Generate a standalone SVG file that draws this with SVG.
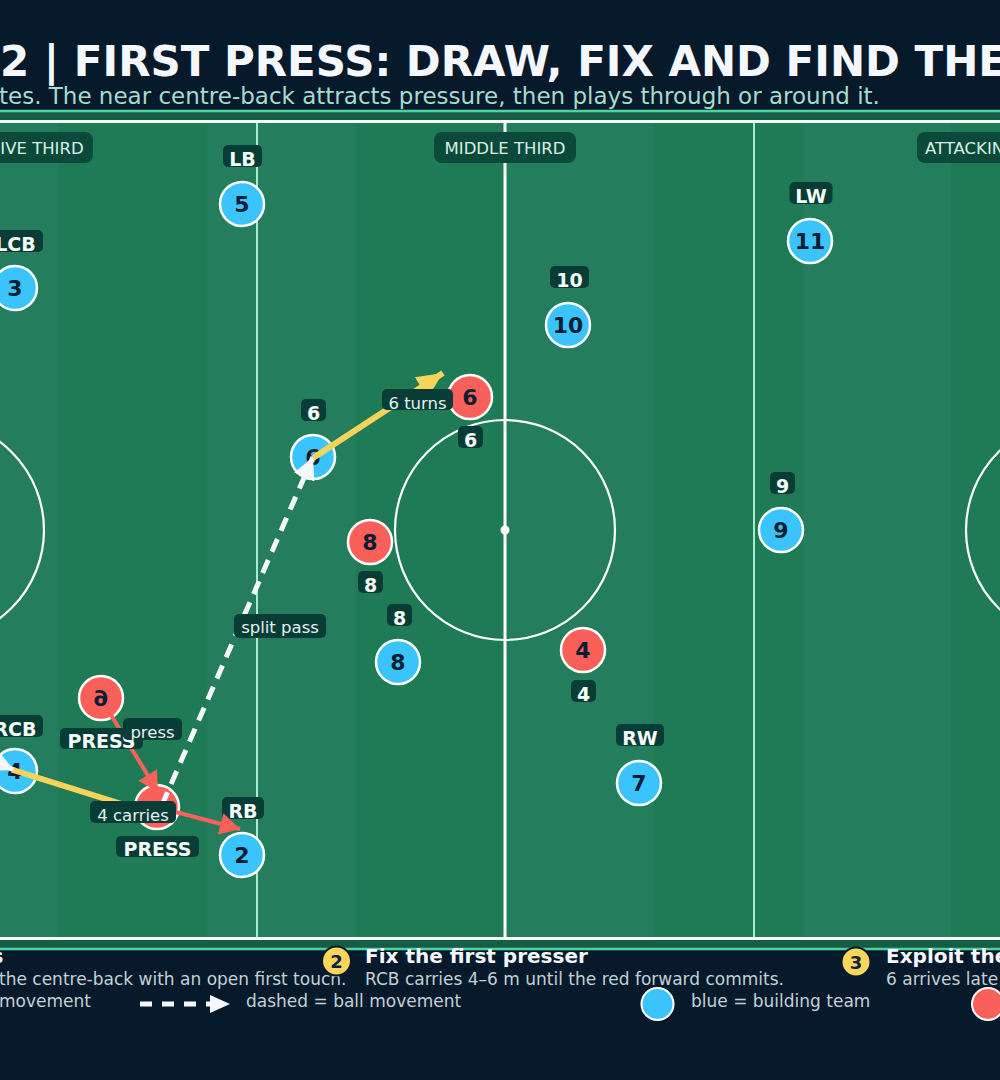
<svg xmlns="http://www.w3.org/2000/svg" width="1000" height="1080" viewBox="0 0 1000 1080">
<defs>
<style>
text{font-family:"DejaVu Sans","Liberation Sans",sans-serif}
.title{font-size:42px;font-weight:bold;fill:#f4f7fb}
.sub{font-size:23px;fill:#a6dccb}
.zone{fill:#0b4a3b}
.zonet{font-size:16.5px;fill:#d9efe6;text-anchor:middle}
.pill{fill:#073d36}
.role{font-size:19px;font-weight:bold;fill:#f4fbf8;text-anchor:middle}
.note{font-size:16.5px;fill:#e6f2ee;text-anchor:middle}
.blue{fill:#3ac4fb;stroke:#fff;stroke-width:2.5}
.red{fill:#fa605a;stroke:#fff;stroke-width:2.5}
.num{font-size:22px;font-weight:bold;fill:#0b1d33;text-anchor:middle}
.step{fill:#f7d65b;stroke:#0b1a2a;stroke-width:2}
.stepn{font-size:18px;font-weight:bold;fill:#10213a;text-anchor:middle}
.head{font-size:20px;font-weight:bold;fill:#f4f7fb}
.desc{font-size:17px;fill:#c3d1d6}
.line{fill:none;stroke:#fff;stroke-width:2.2}
</style>
<marker id="hy" markerUnits="userSpaceOnUse" markerWidth="26" markerHeight="24" refX="26" refY="12" orient="auto"><path d="M0,0 L26,12 L0,24 z" fill="#f6d35b"/></marker>
<marker id="hr" markerUnits="userSpaceOnUse" markerWidth="20" markerHeight="22" refX="20" refY="11" orient="auto"><path d="M0,0 L20,11 L0,22 z" fill="#f9625a"/></marker>
<marker id="hw" markerUnits="userSpaceOnUse" markerWidth="22" markerHeight="22" refX="22" refY="11" orient="auto"><path d="M0,0 L22,11 L0,22 z" fill="#f4f8fc"/></marker>
</defs>
<rect x="0" y="0" width="1000" height="1080" fill="#071a2b"/>
<text class="title" x="0" y="75.5">2 | FIRST PRESS: DRAW, FIX AND FIND THE</text>
<text class="sub" x="-1" y="104">tes. The near centre-back attracts pressure, then plays through or around it.</text>
<g id="pitch">
<rect x="-20" y="111" width="1040" height="838" fill="#175c44" stroke="#4fd39f" stroke-width="2.5"/>
<rect x="-239" y="121.5" width="1488" height="817" fill="#1f7a56"/>
<rect x="-90.2" y="121.5" width="148.8" height="817" fill="#247e5d"/>
<rect x="207.4" y="121.5" width="148.8" height="817" fill="#247e5d"/>
<rect x="505" y="121.5" width="148.8" height="817" fill="#247e5d"/>
<rect x="802.6" y="121.5" width="148.8" height="817" fill="#247e5d"/>
<line x1="257" y1="121.5" x2="257" y2="938.5" stroke="#a7eccd" stroke-width="2"/>
<line x1="754" y1="121.5" x2="754" y2="938.5" stroke="#a7eccd" stroke-width="2"/>
<rect x="-239" y="121.5" width="1488" height="817" fill="none" stroke="#f4faf7" stroke-width="3"/>
<line x1="505" y1="121.5" x2="505" y2="938.5" stroke="#fff" stroke-width="3"/>
<circle class="line" cx="505" cy="530" r="110"/>
<circle cx="505" cy="530" r="4.5" fill="#fff"/>
<circle class="line" cx="-66" cy="530" r="110"/>
<circle class="line" cx="1076" cy="530" r="110"/>
<rect class="zone" x="-75" y="132" width="168" height="31" rx="8"/>
<text class="zonet" x="42" y="154">IVE THIRD</text>
<rect class="zone" x="434" y="132" width="142" height="31" rx="8"/>
<text class="zonet" x="505" y="154">MIDDLE THIRD</text>
<rect class="zone" x="917" y="132" width="168" height="31" rx="8"/>
<text class="zonet" x="925" y="154" style="text-anchor:start">ATTACKIN</text>
</g>
<g id="nodes">
<g id="blue-5"><circle class="blue" cx="242" cy="204" r="22"/><text class="num" x="242" y="212">5</text><rect class="pill" x="223" y="145" width="39" height="22" rx="5"/><text class="role" x="242.5" y="166">LB</text></g>
<g id="blue-3"><circle class="blue" cx="15" cy="288" r="22"/><text class="num" x="15" y="296">3</text><rect class="pill" x="-12" y="230" width="55" height="22" rx="5"/><text class="role" x="15.5" y="251">LCB</text></g>
<g id="blue-11"><circle class="blue" cx="810" cy="241" r="22"/><text class="num" x="810" y="249">11</text><rect class="pill" x="789.5" y="182" width="43" height="22" rx="5"/><text class="role" x="811" y="203">LW</text></g>
<g id="blue-10"><circle class="blue" cx="568" cy="325" r="22"/><text class="num" x="568" y="333">10</text><rect class="pill" x="550" y="266" width="39" height="22" rx="5"/><text class="role" x="569.5" y="287">10</text></g>
<g id="blue-6"><circle class="blue" cx="313" cy="457" r="22"/><text class="num" x="313" y="465">6</text><rect class="pill" x="301" y="399" width="25" height="22" rx="5"/><text class="role" x="313.5" y="420">6</text></g>
<g id="blue-9"><circle class="blue" cx="781" cy="530" r="22"/><text class="num" x="781" y="538">9</text><rect class="pill" x="770" y="472" width="25" height="22" rx="5"/><text class="role" x="782.5" y="493">9</text></g>
<g id="blue-8"><circle class="blue" cx="398" cy="662" r="22"/><text class="num" x="398" y="670">8</text><rect class="pill" x="387" y="604" width="25" height="22" rx="5"/><text class="role" x="399.5" y="625">8</text></g>
<g id="blue-7"><circle class="blue" cx="639" cy="783" r="22"/><text class="num" x="639" y="791">7</text><rect class="pill" x="616" y="724" width="48" height="22" rx="5"/><text class="role" x="640" y="745">RW</text></g>
<g id="blue-2"><circle class="blue" cx="242" cy="855" r="22"/><text class="num" x="242" y="863">2</text><rect class="pill" x="222" y="797" width="42" height="22" rx="5"/><text class="role" x="243" y="818">RB</text></g>
<g id="blue-4"><circle class="blue" cx="15" cy="771" r="22"/><text class="num" x="15" y="779">4</text><rect class="pill" x="-13" y="715" width="56" height="22" rx="5"/><text class="role" x="15" y="736">RCB</text></g>
<g id="red-6"><circle class="red" cx="470" cy="397" r="22"/><text class="num" x="470" y="405">6</text><rect class="pill" x="458" y="426" width="25" height="22" rx="5"/><text class="role" x="470.5" y="447">6</text></g>
<g id="red-8"><circle class="red" cx="370" cy="542" r="22"/><text class="num" x="370" y="550">8</text><rect class="pill" x="358" y="571" width="25" height="22" rx="5"/><text class="role" x="370.5" y="592">8</text></g>
<g id="red-4"><circle class="red" cx="583" cy="650" r="22"/><text class="num" x="583" y="658">4</text><rect class="pill" x="571" y="680" width="25" height="22" rx="5"/><text class="role" x="583.5" y="701">4</text></g>
<g id="red-9"><circle class="red" cx="101" cy="698" r="22"/><text class="num" x="101" y="706" transform="translate(0 1396) scale(1 -1)">9</text></g>
<g id="red-press"><circle class="red" cx="157" cy="807" r="22"/></g>
</g>
<g id="connectors">
<line x1="-80" y1="728" x2="14" y2="770" stroke="#f4f8fc" stroke-width="5" stroke-dasharray="14 9" marker-end="url(#hw)"/>
<line x1="13" y1="770" x2="128" y2="806" stroke="#f6d35b" stroke-width="6"/>
<line x1="111" y1="715" x2="158" y2="792" stroke="#f9625a" stroke-width="4" marker-end="url(#hr)"/>
<line x1="157" y1="807" x2="240" y2="829" stroke="#f9625a" stroke-width="4" marker-end="url(#hr)"/>
<line x1="162" y1="805" x2="313" y2="457" stroke="#f4f8fc" stroke-width="5" stroke-dasharray="14 9" marker-end="url(#hw)"/>
<line x1="313" y1="458" x2="443" y2="373" stroke="#f6d35b" stroke-width="6" marker-end="url(#hy)"/>
</g>
<g id="labels">
<rect class="pill" x="60" y="728" width="83" height="21" rx="5"/><text class="role" x="101.5" y="748">PRESS</text>
<rect class="pill" x="123" y="718" width="59" height="22" rx="5"/><text class="note" x="152.5" y="738">press</text>
<rect class="pill" x="116" y="836" width="83" height="21" rx="5"/><text class="role" x="157.5" y="856">PRESS</text>
<rect class="pill" x="90" y="801" width="86" height="22" rx="5"/><text class="note" x="133" y="821">4 carries</text>
<rect class="pill" x="382" y="389" width="71" height="21" rx="5"/><text class="note" x="417.5" y="409">6 turns</text>
<rect class="pill" x="234" y="614" width="92" height="24" rx="5"/><text class="note" x="280" y="633">split pass</text>
</g>
<g id="legend">
<text class="head" x="3.5" y="963" style="text-anchor:end">s</text>
<text class="desc" x="-1" y="985">the centre-back with an open first touch.</text>
<circle class="step" cx="336.5" cy="961" r="14.5"/><text class="stepn" x="336.5" y="967.5">2</text>
<text class="head" x="365" y="963">Fix the first presser</text>
<text class="desc" x="365" y="985">RCB carries 4–6 m until the red forward commits.</text>
<circle class="step" cx="856" cy="962" r="14.5"/><text class="stepn" x="856" y="968.5">3</text>
<text class="head" x="886" y="963">Exploit the</text>
<text class="desc" x="886" y="985">6 arrives late</text>
<text class="desc" x="-1" y="1007">movement</text>
<line x1="140" y1="1004" x2="212" y2="1004" stroke="#f4f8fc" stroke-width="5" stroke-dasharray="12 10"/>
<path d="M210,995 L230,1004 L210,1013 z" fill="#f4f8fc"/>
<text class="desc" x="246" y="1007">dashed = ball movement</text>
<circle cx="657.5" cy="1004" r="16" fill="#3ac4fb" stroke="#fff" stroke-width="2"/>
<text class="desc" x="691" y="1007">blue = building team</text>
<circle cx="988" cy="1004" r="16" fill="#fa605a" stroke="#fff" stroke-width="2"/>
</g>
</svg>
